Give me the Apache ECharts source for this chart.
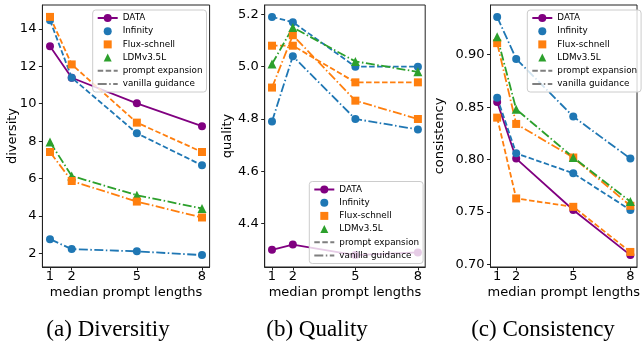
<!DOCTYPE html>
<html>
<head>
<meta charset="utf-8">
<script src="https://cdn.jsdelivr.net/npm/echarts@6/dist/echarts.min.js"></script>
<style>
html,body{margin:0;padding:0;background:#fff;}
#chart{width:643px;height:343px;}
</style>
</head>
<body>
<div id="chart"></div>
<script>
// ---- data ----
const xLengths = [1, 2, 5, 8];

const divTicks = [2, 4, 6, 8, 10, 12, 14];
const divData = [13.07, 11.39, 10.02, 8.80];
const divInfinityPE = [14.46, 11.39, 8.42, 6.71];
const divFluxPE = [14.64, 12.10, 8.99, 7.42];
const divLdmVG = [7.95, 6.14, 5.11, 4.40];
const divFluxVG = [7.42, 5.87, 4.77, 3.92];
const divInfinityVG = [2.76, 2.23, 2.11, 1.91];

const qualTicks = [4.4, 4.6, 4.8, 5.0, 5.2];
const qualData = [4.30, 4.32, 4.28, 4.29];
const qualInfinityPE = [5.19, 5.17, 5.00, 5.00];
const qualInfinityVG = [4.79, 5.04, 4.80, 4.76];
const qualFluxPE = [5.08, 5.08, 4.94, 4.94];
const qualFluxVG = [4.92, 5.12, 4.87, 4.80];
const qualLdmVG = [5.01, 5.15, 5.02, 4.98];

const consTicks = [0.70, 0.75, 0.80, 0.85, 0.90];
const consData = [0.855, 0.801, 0.752, 0.709];
const consInfinityPE = [0.859, 0.806, 0.787, 0.752];
const consInfinityVG = [0.936, 0.896, 0.841, 0.801];
const consFluxPE = [0.840, 0.763, 0.755, 0.712];
const consFluxVG = [0.911, 0.834, 0.802, 0.756];
const consLdmVG = [0.917, 0.848, 0.802, 0.760];

const xTitle = 'median prompt lengths';
const yTitles = ['diversity', 'quality', 'consistency'];
const captions = ['(a) Diversitiy', '(b) Quality', '(c) Consistency'];
const legendNames = ['DATA', 'Infinity', 'Flux-schnell', 'LDMv3.5L', 'prompt expansion', 'vanilla guidance'];

// ---- styling ----
const C = {DATA: '#800080', Infinity: '#1f77b4', 'Flux-schnell': '#ff7f0e', 'LDMv3.5L': '#2ca02c'};
const SYM = {DATA: 'circle', Infinity: 'circle', 'Flux-schnell': 'rect', 'LDMv3.5L': 'triangle'};
const SYMSIZE = {circle: 8, rect: 8, triangle: 9};
const DASH = {solid: 'solid', pe: [5.5, 2.5], vg: [9, 2.5, 1.5, 2.5]};
const FONT = 'DejaVu Sans';

function pad(arr) {
  const lo = Math.min(...arr), hi = Math.max(...arr), m = (hi - lo) * 0.05;
  return [lo - m, hi + m];
}
const xr = pad(xLengths);

const panels = [
  {grid: {left: 42.4, top: 5, width: 167.2, height: 262}, ticks: divTicks, fmt: v => String(v), nameGap: 23,
   lines: [['DATA', 'solid', divData], ['Infinity', 'pe', divInfinityPE], ['Flux-schnell', 'pe', divFluxPE],
           ['LDMv3.5L', 'vg', divLdmVG], ['Flux-schnell', 'vg', divFluxVG], ['Infinity', 'vg', divInfinityVG]],
   legend: {left: 92.7, top: 10}, caption: 108},
  {grid: {left: 264.7, top: 5, width: 160.5, height: 262}, ticks: qualTicks, fmt: v => v.toFixed(1), nameGap: 31,
   lines: [['DATA', 'solid', qualData], ['Infinity', 'pe', qualInfinityPE], ['Infinity', 'vg', qualInfinityVG],
           ['Flux-schnell', 'pe', qualFluxPE], ['Flux-schnell', 'vg', qualFluxVG], ['LDMv3.5L', 'vg', qualLdmVG]],
   legend: {left: 309.3, top: 181.5}, caption: 317},
  {grid: {left: 490.5, top: 5, width: 154.5, height: 262}, ticks: consTicks, fmt: v => v.toFixed(2), nameGap: 44.3,
   lines: [['DATA', 'solid', consData], ['Infinity', 'pe', consInfinityPE], ['Infinity', 'vg', consInfinityVG],
           ['Flux-schnell', 'pe', consFluxPE], ['Flux-schnell', 'vg', consFluxVG], ['LDMv3.5L', 'vg', consLdmVG]],
   legend: {left: 527.3, top: 10}, caption: 543}
];

const grids = [], xAxes = [], yAxes = [], series = [], legends = [];

// legend-only proxies (marker without line), placed first so the legend uses them
['Infinity', 'Flux-schnell', 'LDMv3.5L'].forEach(name => {
  series.push({type: 'line', name: name, xAxisIndex: 0, yAxisIndex: 0, data: [],
    symbol: SYM[name], symbolSize: 8,
    itemStyle: {color: C[name]}, lineStyle: {color: C[name], width: 0, opacity: 0}});
});
[[legendNames[4], DASH.pe], [legendNames[5], DASH.vg]].forEach(([name, dash]) => {
  series.push({type: 'line', name: name, xAxisIndex: 0, yAxisIndex: 0, data: [], symbol: 'circle', symbolSize: 0,
    itemStyle: {color: 'rgba(0,0,0,0)'}, lineStyle: {color: '#7f7f7f', width: 1.8, type: dash}});
});

panels.forEach((p, i) => {
  grids.push(Object.assign({show: true, borderColor: '#222', borderWidth: 1, backgroundColor: 'transparent'}, p.grid));
  xAxes.push({
    type: 'value', gridIndex: i, min: xr[0], max: xr[1],
    name: xTitle, nameLocation: 'middle', nameGap: 19, nameMoveOverlap: false,
    nameTextStyle: {fontFamily: FONT, fontSize: 13, color: '#000'},
    axisLine: {show: true, lineStyle: {color: '#222', width: 1}},
    axisTick: {show: true, length: 3.5, customValues: xLengths, lineStyle: {color: '#222'}},
    axisLabel: {customValues: xLengths, margin: 3, fontFamily: FONT, fontSize: 13, color: '#000'},
    splitLine: {show: false}
  });
  const allY = [].concat(...p.lines.map(l => l[2]));
  const yr = pad(allY);
  yAxes.push({
    type: 'value', gridIndex: i, min: yr[0], max: yr[1],
    name: yTitles[i], nameLocation: 'middle', nameGap: p.nameGap, nameRotate: 90, nameMoveOverlap: false,
    nameTextStyle: {fontFamily: FONT, fontSize: 13, color: '#000'},
    axisLine: {show: true, lineStyle: {color: '#222', width: 1}},
    axisTick: {show: true, length: 3.5, customValues: p.ticks, lineStyle: {color: '#222'}},
    axisLabel: {customValues: p.ticks, margin: 6, fontFamily: FONT, fontSize: 13, color: '#000', formatter: p.fmt},
    splitLine: {show: false}
  });
  p.lines.forEach(([name, style, vals]) => {
    const sym = SYM[name];
    series.push({
      type: 'line', name: name, xAxisIndex: i, yAxisIndex: i,
      data: xLengths.map((x, k) => [x, vals[k]]),
      symbol: sym, symbolSize: SYMSIZE[sym], showSymbol: true,
      itemStyle: {color: C[name], opacity: 1},
      lineStyle: {color: C[name], width: 1.8, type: DASH[style]},
      emphasis: {disabled: true}, z: 2
    });
  });
  legends.push({
    orient: 'vertical', left: p.legend.left, top: p.legend.top,
    itemWidth: 20, itemHeight: 10, itemGap: 3.2, padding: [3, 4, 3, 4],
    backgroundColor: 'rgba(255,255,255,0.8)', borderColor: '#cccccc', borderWidth: 1, borderRadius: 3,
    selectedMode: false,
    textStyle: {fontFamily: FONT, fontSize: 8.8, color: '#000', lineHeight: 10},
    data: legendNames.map(n => ({name: n})),
    z: 10
  });
});

const chart = echarts.init(document.getElementById('chart'), null, {renderer: 'canvas'});
chart.setOption({
  animation: false,
  backgroundColor: '#fff',
  grid: grids, xAxis: xAxes, yAxis: yAxes, series: series, legend: legends,
  graphic: panels.map((p, i) => ({
    type: 'text', x: p.caption, y: 318,
    style: {text: captions[i], font: '23px "Liberation Serif"', fill: '#000', align: 'center', textAlign: 'center'}
  }))
});
</script>
</body>
</html>
